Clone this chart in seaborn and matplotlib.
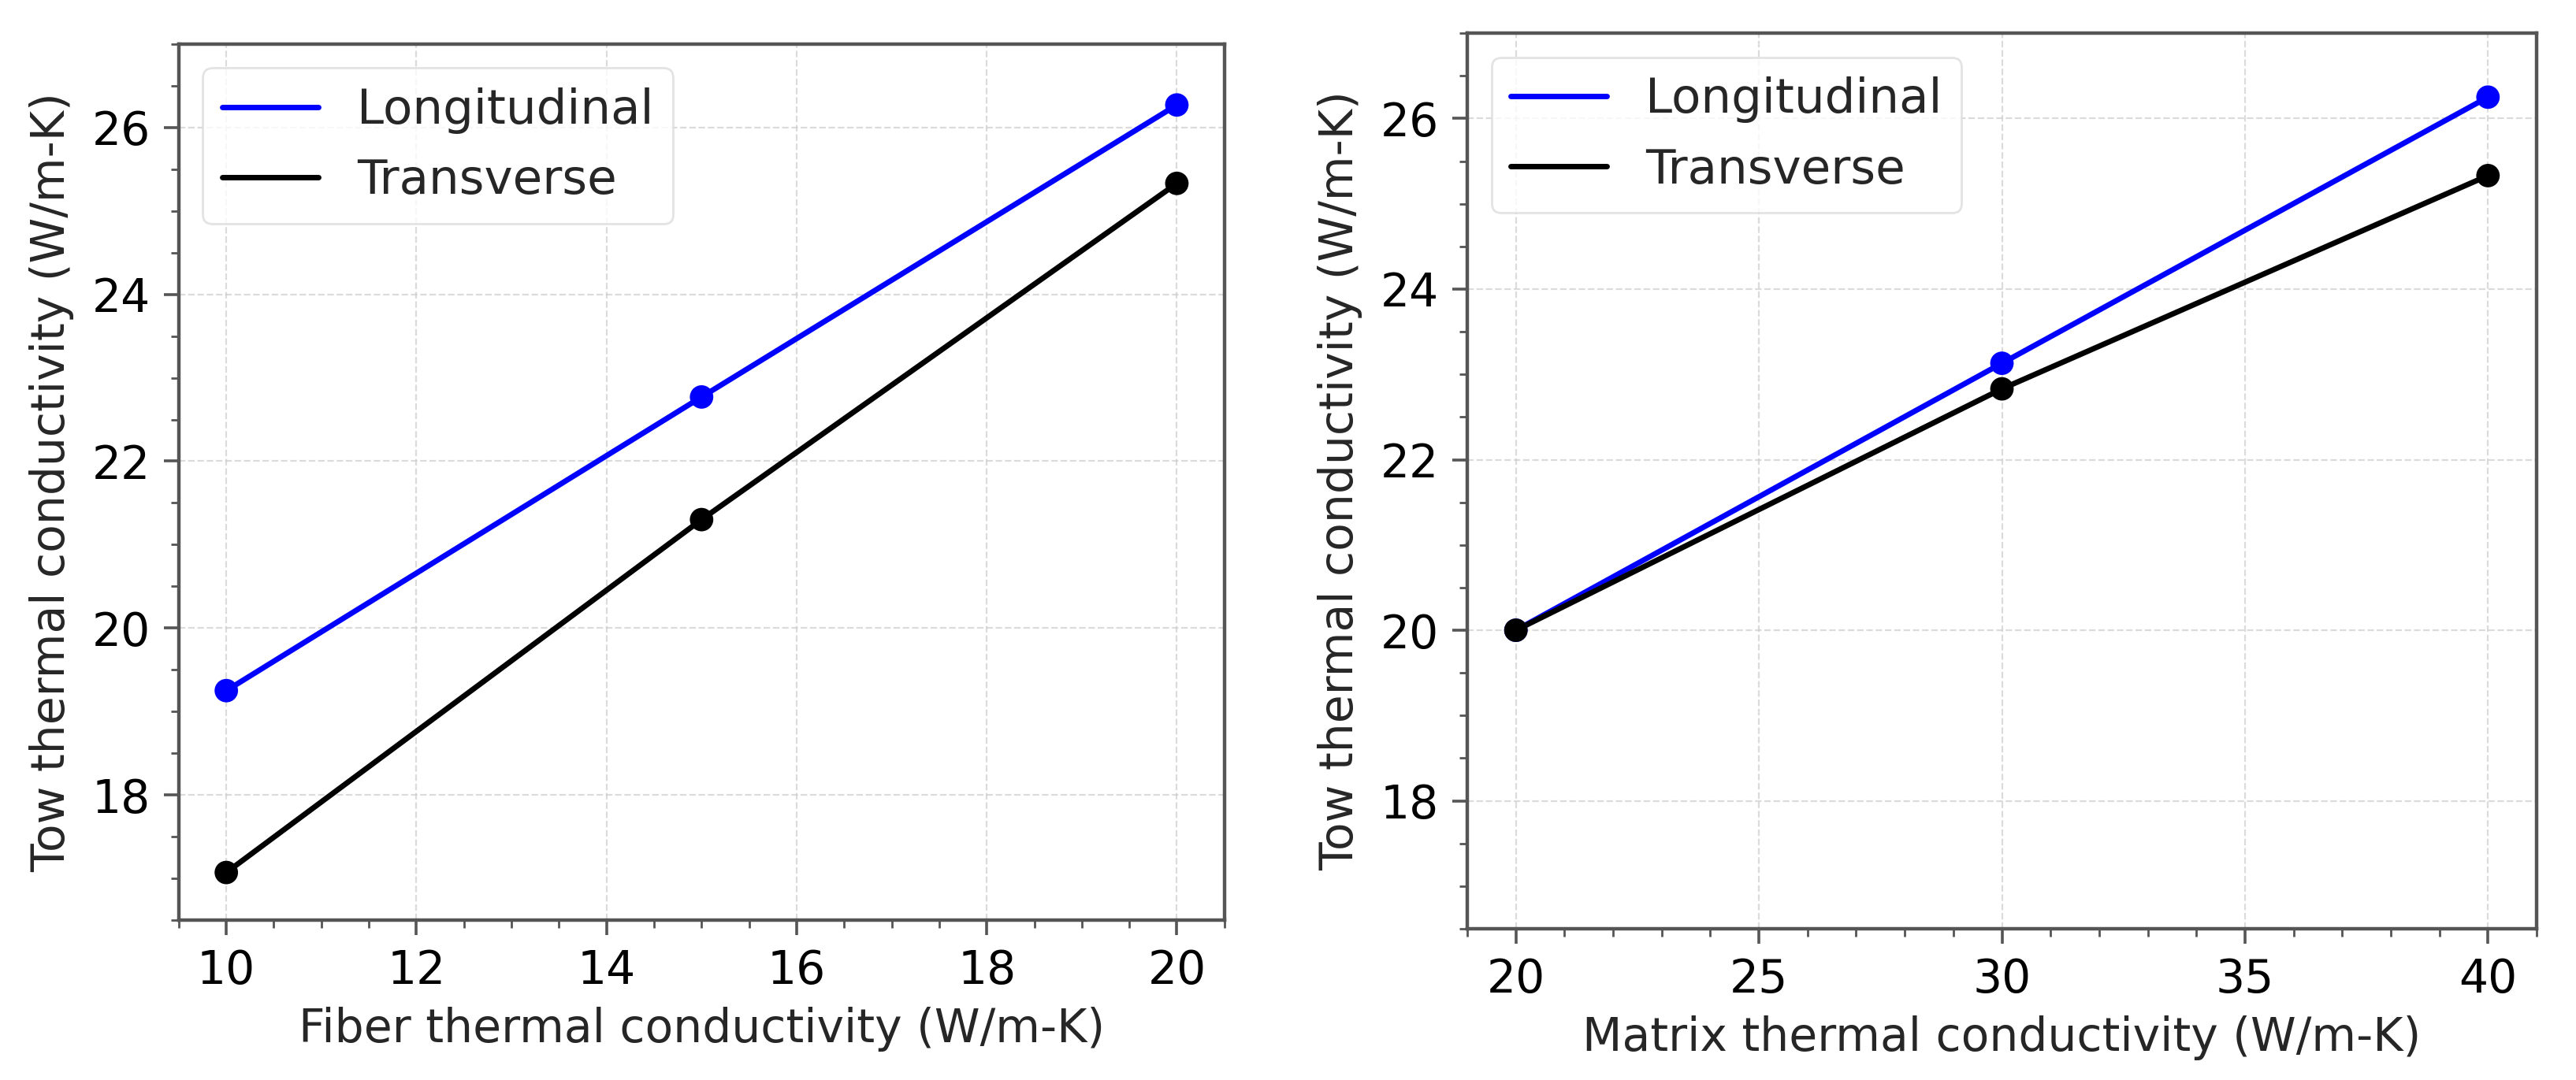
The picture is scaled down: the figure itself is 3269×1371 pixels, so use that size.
import matplotlib
matplotlib.use('Agg')
import matplotlib.pyplot as plt
import seaborn as sns
import pandas as pd
from matplotlib.ticker import AutoMinorLocator

# data
fiber_k = [10, 15, 20]
fiber_long = [19.25, 22.77, 26.27]
fiber_trans = [17.07, 21.30, 25.33]

matrix_k = [20, 30, 40]
matrix_long = [20.0, 23.13, 26.25]
matrix_trans = [20.0, 22.83, 25.33]

ylabel = 'Tow thermal conductivity (W/m-K)'
xlabels = ['Fiber thermal conductivity (W/m-K)', 'Matrix thermal conductivity (W/m-K)']

sns.set_style('white')
plt.rcParams['font.family'] = ['DejaVu Sans']

fig = plt.figure(figsize=(16.345, 6.855), dpi=200)
ax1 = fig.add_axes([0.0694, 0.1481, 0.4059, 0.8111])
ax2 = fig.add_axes([0.5696, 0.1400, 0.4151, 0.8293])

panels = [
    (ax1, fiber_k, fiber_long, fiber_trans, xlabels[0]),
    (ax2, matrix_k, matrix_long, matrix_trans, xlabels[1]),
]

for ax, x, yl, yt, xl in panels:
    D = pd.DataFrame({'x': x, 'long': yl, 'trans': yt})
    sns.lineplot(data=D, x='x', y='long', ax=ax, color='blue', lw=2.5, label='Longitudinal')
    sns.lineplot(data=D, x='x', y='trans', ax=ax, color='black', lw=2.5, label='Transverse')
    sns.scatterplot(data=D, x='x', y='long', ax=ax, color='blue', s=115, edgecolor='none', legend=False, zorder=3)
    sns.scatterplot(data=D, x='x', y='trans', ax=ax, color='black', s=115, edgecolor='none', legend=False, zorder=3)

    ax.set_ylim(16.5, 27)
    ax.set_yticks([18, 20, 22, 24, 26])
    ax.xaxis.set_minor_locator(AutoMinorLocator())
    ax.yaxis.set_minor_locator(AutoMinorLocator())
    ax.grid(True, which='major', ls='--', color='#cccccc', lw=0.8, alpha=0.7)
    ax.tick_params(which='major', length=7, width=1.3, pad=6, labelsize=21, colors='#555555', labelcolor='black', direction='out', bottom=True, left=True)
    ax.tick_params(which='minor', length=3.5, width=1.0, colors='#555555', bottom=True, left=True)
    for sp in ax.spines.values():
        sp.set_color('#555555')
        sp.set_linewidth(1.6)
    ax.set_xlabel(xl, fontsize=21, labelpad=6)
    ax.set_ylabel(ylabel, fontsize=21, labelpad=8)
    ax.legend(loc='upper left', fontsize=22, frameon=True, framealpha=0.8, edgecolor='#dddddd', handlelength=2.0)

ax1.set_xticks([10, 12, 14, 16, 18, 20])
ax2.set_xticks([20, 25, 30, 35, 40])

plt.savefig('out.png', dpi=200)
